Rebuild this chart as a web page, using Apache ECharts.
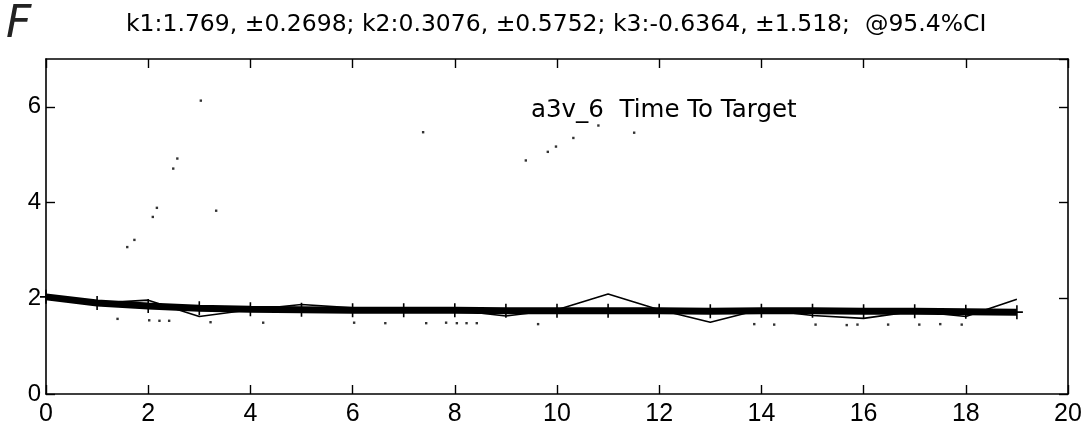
<!DOCTYPE html>
<html><head><meta charset="utf-8">
<script src="https://cdn.jsdelivr.net/npm/echarts@6/dist/echarts.min.js"></script>
<style>html,body{margin:0;padding:0;background:#fff}#c{width:1091px;height:439px}</style>
</head><body><div id="c"></div>
<script>
// ---- data ----
const trials = [0,1,2,3,4,5,6,7,8,9,10,11,12,13,14,15,16,17,18,19];
const observed = [2.02,1.90,1.96,1.62,1.76,1.87,1.80,1.76,1.75,1.63,1.76,2.09,1.76,1.50,1.77,1.64,1.58,1.73,1.62,1.98];
const fitted = [2.03,1.90,1.84,1.79,1.77,1.76,1.75,1.75,1.75,1.74,1.74,1.74,1.74,1.73,1.74,1.74,1.73,1.73,1.72,1.71];
const dotX = [1.59,1.73,2.09,2.17,2.49,2.57,3.03,3.33,7.38,9.39,9.82,9.98,10.32,10.81,11.51,
              1.40,2.02,2.22,2.41,3.22,4.25,6.03,6.64,7.44,7.83,8.04,8.23,8.43,9.63,13.86,14.25,15.06,15.67,15.88,16.48,17.09,17.50,17.92];
const dotY = [3.07,3.22,3.70,3.89,4.71,4.92,6.13,3.83,5.47,4.88,5.06,5.17,5.35,5.61,5.46,
              1.57,1.54,1.53,1.53,1.50,1.49,1.49,1.48,1.48,1.49,1.48,1.48,1.48,1.46,1.46,1.45,1.45,1.44,1.45,1.45,1.45,1.46,1.45];
const xTicks = {min:0, max:20, interval:2};
const yTicks = {min:0, max:7, interval:2};
const titleText = 'k1:1.769, \u00b10.2698; k2:0.3076, \u00b10.5752; k3:-0.6364, \u00b11.518;  @95.4%CI';
const noteText = 'a3v_6  Time To Target';
const cornerMark = 'F';

// ---- chart ----
const chart = echarts.init(document.getElementById('c'), null, {renderer:'canvas'});
const axisLine = {show:true, onZero:false, lineStyle:{color:'#000', width:1.6}};
const axisTick = {show:true, inside:true, length:9, lineStyle:{color:'#000', width:1.4}};
const plus = 'path://M5.2,0 H6.8 V5.2 H12 V6.8 H6.8 V12 H5.2 V6.8 H0 V5.2 H5.2 Z';

chart.setOption({
  animation:false,
  backgroundColor:'#fff',
  grid:{left:46, right:23, top:59, bottom:45},
  xAxis:[
    Object.assign({type:'value', position:'bottom', axisLine, axisTick, splitLine:{show:false},
      axisLabel:{margin:8, color:'#000', fontFamily:'Liberation Sans', fontSize:25}}, xTicks),
    Object.assign({type:'value', position:'top', axisLine, axisTick, splitLine:{show:false},
      axisLabel:{show:false}}, xTicks)
  ],
  yAxis:[
    Object.assign({type:'value', position:'left', axisLine, axisTick, splitLine:{show:false},
      axisLabel:{margin:5, showMaxLabel:false, color:'#000', fontFamily:'Liberation Sans', fontSize:24}}, yTicks),
    Object.assign({type:'value', position:'right', axisLine, axisTick, splitLine:{show:false},
      axisLabel:{show:false}}, yTicks)
  ],
  series:[
    {type:'line', data:trials.map((t,i)=>[t, observed[i]]), showSymbol:false, symbol:'none',
     lineStyle:{color:'#000', width:1.7}, z:3},
    {type:'line', data:trials.map((t,i)=>[t, fitted[i]]), symbol:plus, symbolSize:[12,14], showSymbol:true,
     itemStyle:{color:'#000'}, lineStyle:{color:'#000', width:7}, z:4},
    {type:'scatter', data:dotX.map((x,i)=>[x, dotY[i]]), symbol:'rect', symbolSize:2.4,
     itemStyle:{color:'#000'}, z:5}
  ],
  graphic:[
    {type:'text', x:126, y:25, style:{text:titleText, font:'23.5px "DejaVu Sans"', fill:'#000', textVerticalAlign:'middle'}},
    {type:'text', x:531, y:111, style:{text:noteText, font:'24.5px "DejaVu Sans"', fill:'#000', textVerticalAlign:'middle'}},
    {type:'text', x:6, y:26, style:{text:cornerMark, font:'italic 44px "DejaVu Sans"', fill:'#222', textVerticalAlign:'middle'}}
  ]
});
</script></body></html>
